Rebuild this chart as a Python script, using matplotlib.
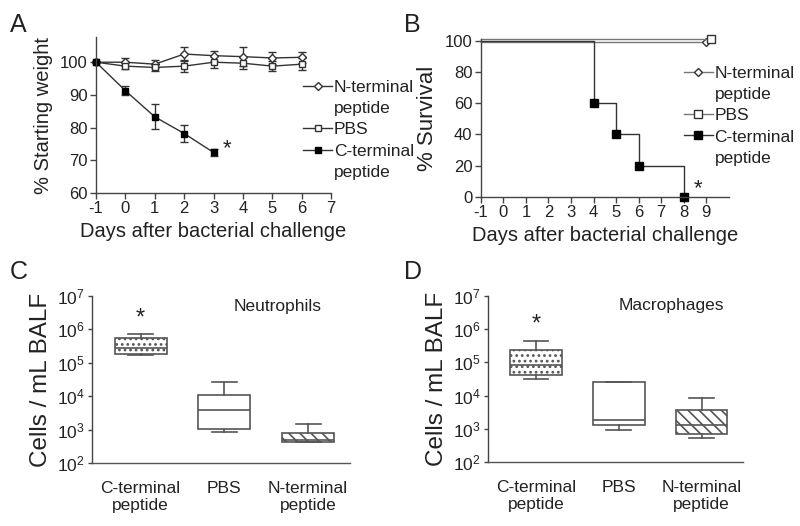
import matplotlib
matplotlib.use('Agg')
import matplotlib.pyplot as plt
from matplotlib.lines import Line2D
from matplotlib.ticker import NullLocator
import numpy as np

plt.rcParams['font.family'] = ['Liberation Sans', 'DejaVu Sans']
plt.rcParams['mathtext.default'] = 'regular'
plt.rcParams['axes.unicode_minus'] = False
plt.rcParams['hatch.linewidth'] = 1.2

# Panel A: body weight (% of starting weight)
days_a = [-1, 0, 1, 2, 3, 4, 5, 6]
nterm_w = [100, 100.0, 99.4, 102.5, 102.0, 101.7, 101.3, 101.5]
nterm_w_err = [0, 1.2, 1.2, 2.2, 1.5, 2.8, 1.7, 1.7]
pbs_w = [100, 98.8, 98.4, 98.8, 100.0, 99.7, 98.8, 99.4]
pbs_w_err = [0, 1.0, 1.0, 1.8, 1.8, 1.8, 1.6, 1.8]
cterm_days = [-1, 0, 1, 2, 3]
cterm_w = [100, 91.3, 83.3, 78.2, 72.4]
cterm_w_err = [0, 1.3, 3.8, 2.5, 1.2]

# Panel B: survival
nterm_surv_days = [-1, 9]
nterm_surv = [99.3, 99.3]
pbs_surv_days = [-1, 9.2]
pbs_surv = [100.7, 100.7]
cterm_surv_days = [-1, 4, 5, 6, 8]
cterm_surv = [100, 60, 40, 20, 0]

# Panels C and D: box summaries (whisker low, q1, median, q3, whisker high)
groups = ['C-terminal\npeptide', 'PBS', 'N-terminal\npeptide']
neut_stats = [
    [1.75e5, 1.8e5, 2.7e5, 5.6e5, 7.2e5],
    [8.5e2, 1.07e3, 3.9e3, 1.07e4, 2.6e4],
    [4.2e2, 4.2e2, 5.0e2, 8.0e2, 1.48e3],
]
macro_stats = [
    [3.2e4, 4.1e4, 8.1e4, 2.3e5, 4.3e5],
    [8.9e2, 1.26e3, 1.8e3, 2.5e4, 2.6e4],
    [5.1e2, 7.2e2, 1.3e3, 3.7e3, 8.5e3],
]
box_hatches = ['...', '', '\\\\\\']

txt = '#222222'
axc = '#444444'


def style_axes(ax):
    for s in ['top', 'right']:
        ax.spines[s].set_visible(False)
    for s in ['left', 'bottom']:
        ax.spines[s].set_color(axc)
        ax.spines[s].set_linewidth(1.0)
    ax.tick_params(direction='out', length=4, width=1.0, color=axc,
                   labelsize=12, labelcolor=txt, pad=2)


def add_legend(ax, handles, anchor):
    blank = Line2D([], [], color='none')
    hs = [handles[0], blank, handles[1], handles[2], blank]
    labels = ['N-terminal', 'peptide', 'PBS', 'C-terminal', 'peptide']
    ax.legend(hs, labels, loc='upper left', bbox_to_anchor=anchor,
              frameon=False, fontsize=12.5, handlelength=1.7, handletextpad=0.08,
              labelspacing=0.35, borderaxespad=0, labelcolor=txt)


fig = plt.figure(figsize=(8, 5.26), dpi=100)

# ---------------- A ----------------
ax = fig.add_axes([0.12, 0.633, 0.294, 0.2966])
style_axes(ax)
kw = dict(color='#333333', lw=1.0, capsize=3, elinewidth=1.0, ecolor='#333333',
          clip_on=False)
h1 = ax.errorbar(days_a, nterm_w, yerr=nterm_w_err, marker='D', mfc='white',
                 mec='#333333', markersize=4.5, **kw)
h2 = ax.errorbar(days_a, pbs_w, yerr=pbs_w_err, marker='s', mfc='white',
                 mec='#333333', markersize=5, **kw)
h3 = ax.errorbar(cterm_days, cterm_w, yerr=cterm_w_err, marker='s', mfc='black',
                 mec='black', markersize=5, **kw)
ax.text(3.45, 73.5, '*', fontsize=16, ha='center', va='center', color=txt)
ax.set_xlim(-1, 7)
ax.set_ylim(60, 107.7)
ax.set_xticks(range(-1, 8))
ax.set_yticks([60, 70, 80, 90, 100])
ax.set_xlabel('Days after bacterial challenge', fontsize=14.5, color=txt, labelpad=4)
ax.set_ylabel('% Starting weight', fontsize=14.5, color=txt, labelpad=5)
add_legend(ax, [h1[0], h2[0], h3[0]], (0.85, 0.77))
fig.text(0.012, 0.975, 'A', fontsize=18, va='top', color=txt)

# ---------------- B ----------------
ax = fig.add_axes([0.601, 0.6255, 0.31, 0.3004])
style_axes(ax)
g = '#777777'
b1, = ax.plot(nterm_surv_days, nterm_surv, color=g, lw=1.0, marker='D', mfc='white',
              mec='#333333', markersize=4.5, markevery=[1], clip_on=False)
b2, = ax.plot(pbs_surv_days, pbs_surv, color=g, lw=1.0, marker='s', mfc='white',
              mec='#333333', markersize=5.5, markevery=[1], clip_on=False)
b3, = ax.plot(cterm_surv_days, cterm_surv, color='#333333', lw=1.0, drawstyle='steps-post',
              marker='s', mfc='black', mec='black', markersize=5.5,
              markevery=[1, 2, 3, 4], clip_on=False)
ax.text(8.65, 5, '*', fontsize=16, ha='center', va='center', color=txt)
ax.set_xlim(-1, 10)
ax.set_ylim(0, 101)
ax.set_xticks(range(-1, 10))
ax.set_yticks([0, 20, 40, 60, 80, 100])
ax.set_xlabel('Days after bacterial challenge', fontsize=14.5, color=txt, labelpad=4)
ax.set_ylabel('% Survival', fontsize=16, color=txt, labelpad=5)
add_legend(ax, [b1, b2, b3], (0.79, 0.875))
fig.text(0.505, 0.975, 'B', fontsize=18, va='top', color=txt)


# ---------------- C / D ----------------
def box_panel(rect, stats, title, letter, lx, star_y):
    ax = fig.add_axes(rect)
    style_axes(ax)
    bstats = []
    for lab, (wl, q1, med, q3, wh) in zip(groups, stats):
        bstats.append(dict(label=lab, whislo=wl, q1=q1, med=med, q3=q3, whishi=wh, fliers=[]))
    bp = ax.bxp(bstats, positions=[1, 2, 3], widths=0.62, capwidths=0.3,
                patch_artist=True, showfliers=False,
                boxprops=dict(edgecolor='#555555', lw=1.2),
                medianprops=dict(color='#555555', lw=1.2),
                whiskerprops=dict(color='#555555', lw=1.2),
                capprops=dict(color='#555555', lw=1.2))
    for patch, h in zip(bp['boxes'], box_hatches):
        patch.set_facecolor('white')
        patch.set_hatch(h)
    ax.set_yscale('log')
    ax.set_ylim(1e2, 1e7)
    ax.set_yticks([1e2, 1e3, 1e4, 1e5, 1e6, 1e7])
    ax.yaxis.set_minor_locator(NullLocator())
    ax.set_xlim(0.42, 3.5)
    ax.tick_params(axis='x', length=0, pad=13, labelsize=12.5)
    ax.tick_params(axis='y', labelsize=12.5, length=3)
    ax.spines['bottom'].set_color('#555555')
    ax.set_ylabel('Cells / mL BALF', fontsize=17.5, color=txt, labelpad=4)
    ax.text(1.0, star_y, '*', fontsize=17, ha='center', va='center', color=txt)
    ax.text(0.72, 0.94, title, transform=ax.transAxes, fontsize=12.5,
            ha='center', va='center', color=txt)
    fig.text(lx, 0.505, letter, fontsize=18, va='top', color=txt)
    return ax


box_panel([0.115, 0.1198, 0.3225, 0.3175], neut_stats, 'Neutrophils', 'C', 0.012, 2.1e6)
box_panel([0.61, 0.1217, 0.319, 0.3156], macro_stats, 'Macrophages', 'D', 0.505, 1.4e6)

fig.savefig('out.png', dpi=100)
